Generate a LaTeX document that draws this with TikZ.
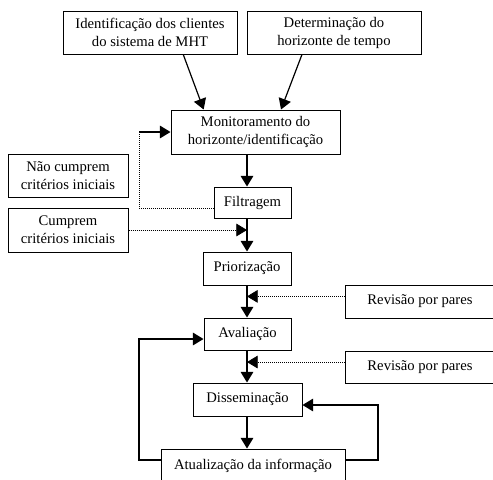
\documentclass[tikz,border=0pt]{standalone}
\usepackage{fontspec}
\setmainfont{Liberation Serif}
\usetikzlibrary{arrows.meta,calc}

\tikzset{
  caixa/.style={draw, line width=0.75pt, align=center, inner sep=2pt,
    font=\fontsize{11}{13.5}\selectfont},
  seta/.style={line width=0.9pt, -{Triangle[length=8pt,width=9.5pt]}},
  pontos/.style={line width=0.6pt, dash pattern=on 0.75pt off 0.75pt},
  pontilhada/.style={seta, pontos}
}

\begin{document}
\begin{tikzpicture}[x=0.75pt, y=-0.75pt]
  \useasboundingbox (0,0) rectangle (493,479);

  % caixas de entrada
  \node[caixa, minimum width=130.5pt, minimum height=32.25pt] (clientes) at (150,32.5)
    {Identificação dos clientes\\do sistema de MHT};
  \node[caixa, minimum width=130.5pt, minimum height=32.25pt] (horizonte) at (334,33)
    {Determinação do\\horizonte de tempo};

  % fluxo central
  \node[caixa, minimum width=126.75pt, minimum height=33pt] (monitor) at (255.5,132)
    {Monitoramento do\\horizonte/identificação};
  \node[caixa, minimum width=57.75pt, minimum height=23.25pt] (filtragem) at (252.5,202.5) {Filtragem};
  \node[caixa, minimum width=66pt, minimum height=24.75pt] (prior) at (247,268.5) {Priorização};
  \node[caixa, minimum width=65.25pt, minimum height=24pt] (aval) at (247.5,334) {Avaliação};
  \node[caixa, minimum width=81.75pt, minimum height=24.75pt] (dissem) at (247.5,399.5) {Disseminação};
  \node[caixa, minimum width=138pt, minimum height=25.5pt] (atual) at (253,466)
    {Atualização da informação};

  % caixas laterais
  \node[caixa, minimum width=90pt, minimum height=32.25pt] (naocumprem) at (68,175.5)
    {Não cumprem\\critérios iniciais};
  \node[caixa, minimum width=90pt, minimum height=33pt] (cumprem) at (68,230)
    {Cumprem\\critérios iniciais};
  \node[caixa, minimum width=112.5pt, minimum height=24.75pt] (revisaoA) at (420,301.5) {Revisão por pares};
  \node[caixa, minimum width=112.5pt, minimum height=24pt] (revisaoB) at (420,367) {Revisão por pares};

  % pontos de apoio
  \coordinate (volta) at (139,132);
  \coordinate (esq) at (139,339);
  \coordinate (dir) at (378,405);

  % setas
  \draw[seta] ($(clientes.south west)!0.69!(clientes.south east)$)
    -- ($(monitor.north west)!0.195!(monitor.north east)$);
  \draw[seta] ($(horizonte.south west)!0.316!(horizonte.south east)$)
    -- ($(monitor.north west)!0.65!(monitor.north east)$);
  \draw[seta] (monitor.south -| prior.north) -- (filtragem.north -| prior.north);
  \draw[seta] (filtragem.south -| prior.north) -- (prior.north);
  \draw[seta] (prior.south) -- (aval.north -| prior.south);
  \draw[seta] (aval.south -| prior.south) -- (dissem.north -| prior.south);
  \draw[seta] (dissem.south -| prior.south) -- (atual.north -| prior.south);

  \draw[pontos] ($(filtragem.south west)!0.32!(filtragem.north west)$) -| (volta);
  \draw[seta] (volta) -- (monitor.west |- volta);
  \draw[pontilhada] (cumprem.east) -- (cumprem.east -| prior.north);
  \coordinate (ra) at ($(revisaoA.north west)!0.35!(revisaoA.south west)$);
  \coordinate (rb) at ($(revisaoB.north west)!0.35!(revisaoB.south west)$);
  \draw[pontilhada] (ra) -- (ra -| prior.south);
  \draw[pontilhada] (rb) -- (rb -| prior.south);

  \coordinate (sa) at (atual.west |- 0,460);
  \draw[seta] (sa) -| (esq) -- (aval.west |- esq);
  \draw[seta] (sa -| atual.east) -| (dir) -- (dissem.east |- dir);
\end{tikzpicture}
\end{document}
